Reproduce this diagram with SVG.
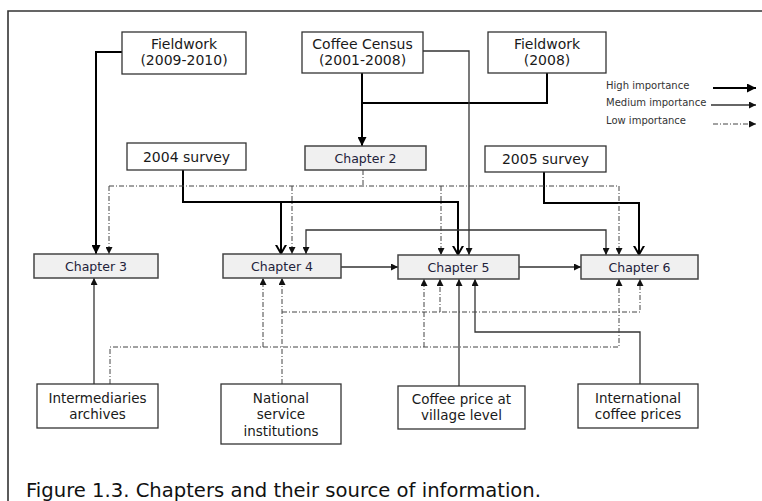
<svg xmlns="http://www.w3.org/2000/svg" width="762" height="501" viewBox="0 0 762 501">
<defs>
<marker id="tri" viewBox="0 0 8 8" refX="8" refY="4" markerWidth="7" markerHeight="7" markerUnits="userSpaceOnUse" orient="auto"><path d="M0,0 L8,4 L0,8 z" fill="#111"/></marker>
<marker id="trib" viewBox="0 0 8 8" refX="8" refY="4" markerWidth="9" markerHeight="9" markerUnits="userSpaceOnUse" orient="auto"><path d="M0,0 L8,4 L0,8 z" fill="#000"/></marker>
<marker id="vee" viewBox="0 0 10 12" refX="9.5" refY="6" markerWidth="10" markerHeight="12" markerUnits="userSpaceOnUse" orient="auto"><path d="M0,0.8 L9,6 L0,11.2" fill="none" stroke="#000" stroke-width="2"/></marker>
</defs>
<style>
.box{fill:#fff;stroke:#333;stroke-width:1.3}
.ch{fill:#f0f0f0;stroke:#444;stroke-width:1.5}
.t{font-family:"DejaVu Sans",Verdana,sans-serif;font-size:14px;fill:#1a1a1a;text-anchor:middle}
.tc{font-family:"DejaVu Sans",Verdana,sans-serif;font-size:12.5px;fill:#22223a;text-anchor:middle}
.tb{font-family:"DejaVu Sans",Verdana,sans-serif;font-size:13.5px;fill:#1a1a1a;text-anchor:middle}
.lg{font-family:"DejaVu Sans",Verdana,sans-serif;font-size:10px;fill:#333}
.hi{fill:none;stroke:#000;stroke-width:2}
.me{fill:none;stroke:#333;stroke-width:1.3}
.lo{fill:none;stroke:#444;stroke-width:1;stroke-dasharray:5 2 1 2}
</style>
<rect width="762" height="501" fill="#fff"/>
<path d="M8,501 V11 H762" fill="none" stroke="#333" stroke-width="1.6"/>

<g id="connectors">
<path class="hi" d="M122,52 H96 V254" marker-end="url(#trib)"/>
<path class="hi" d="M362,73 V146" marker-end="url(#trib)"/>
<path class="hi" d="M547,73 V103 H362"/>
<path class="hi" d="M183,170 V202 H458 V255" marker-end="url(#vee)"/>
<path class="hi" d="M281,202 V254" marker-end="url(#vee)"/>
<path class="hi" d="M544,172 V203 H639 V255" marker-end="url(#vee)"/>

<path class="me" d="M423,51 H469 V255" marker-end="url(#tri)"/>
<path class="me" d="M469,230 H306 V254" marker-end="url(#tri)"/>
<path class="me" d="M469,230 H606 V255" marker-end="url(#tri)"/>
<path class="me" d="M341,267 H398" marker-end="url(#tri)"/>
<path class="me" d="M519,267 H581" marker-end="url(#tri)"/>
<path class="me" d="M94,384 V278" marker-end="url(#tri)"/>
<path class="me" d="M459,386 V279" marker-end="url(#tri)"/>
<path class="me" d="M640,384 V332 H475 V279" marker-end="url(#tri)"/>

<path class="lo" d="M363,170 V186"/>
<path class="lo" d="M109,186 H619"/>
<path class="lo" d="M109,186 V254" marker-end="url(#tri)"/>
<path class="lo" d="M292,186 V254" marker-end="url(#tri)"/>
<path class="lo" d="M441,186 V255" marker-end="url(#tri)"/>
<path class="lo" d="M619,186 V255" marker-end="url(#tri)"/>

<path class="lo" d="M282,384 V278" marker-end="url(#tri)"/>
<path class="lo" d="M282,312 H640 V279" marker-end="url(#tri)"/>
<path class="lo" d="M440,312 V279" marker-end="url(#tri)"/>

<path class="lo" d="M110,384 V347 H619 V279" marker-end="url(#tri)"/>
<path class="lo" d="M263,347 V278" marker-end="url(#tri)"/>
<path class="lo" d="M424,347 V279" marker-end="url(#tri)"/>
</g>

<g id="legend">
<text class="lg" x="606" y="89">High importance</text>
<text class="lg" x="606" y="106">Medium importance</text>
<text class="lg" x="606" y="124">Low importance</text>
<path class="hi" d="M713,88 H756" marker-end="url(#trib)"/>
<path class="me" d="M711,105 H756" marker-end="url(#tri)"/>
<path class="lo" d="M713,124 H756" marker-end="url(#tri)"/>
</g>

<g id="fieldwork2009"><rect class="box" x="122" y="32" width="124" height="42"/><text class="t" x="184" y="49">Fieldwork</text><text class="t" x="184" y="65">(2009-2010)</text></g>
<g id="census"><rect class="box" x="302" y="32" width="121" height="41"/><text class="t" x="362.5" y="49">Coffee Census</text><text class="t" x="362.5" y="65">(2001-2008)</text></g>
<g id="fieldwork2008"><rect class="box" x="488" y="32" width="118" height="41"/><text class="t" x="547" y="49">Fieldwork</text><text class="t" x="547" y="65">(2008)</text></g>
<g id="survey2004"><rect class="box" x="127" y="143" width="119" height="27"/><text class="t" x="186.5" y="162">2004 survey</text></g>
<g id="chapter2"><rect class="ch" x="305" y="146" width="121" height="24"/><text class="tc" x="365.5" y="162.5">Chapter 2</text></g>
<g id="survey2005"><rect class="box" x="485" y="146" width="121" height="26"/><text class="t" x="545.5" y="164">2005 survey</text></g>
<g id="chapter3"><rect class="ch" x="34" y="254" width="124" height="24"/><text class="tc" x="96" y="270.5">Chapter 3</text></g>
<g id="chapter4"><rect class="ch" x="223" y="254" width="118" height="24"/><text class="tc" x="282" y="270.5">Chapter 4</text></g>
<g id="chapter5"><rect class="ch" x="398" y="255" width="121" height="24"/><text class="tc" x="458.5" y="271.5">Chapter 5</text></g>
<g id="chapter6"><rect class="ch" x="581" y="255" width="117" height="24"/><text class="tc" x="639.5" y="271.5">Chapter 6</text></g>
<g id="intermediaries"><rect class="box" x="37" y="384" width="121" height="44"/><text class="tb" x="97.5" y="403">Intermediaries</text><text class="tb" x="97.5" y="419">archives</text></g>
<g id="national"><rect class="box" x="221" y="384" width="120" height="60"/><text class="tb" x="281" y="403">National</text><text class="tb" x="281" y="419">service</text><text class="tb" x="281" y="436">institutions</text></g>
<g id="villageprice"><rect class="box" x="398" y="386" width="127" height="43"/><text class="tb" x="461.5" y="404">Coffee price at</text><text class="tb" x="461.5" y="420">village level</text></g>
<g id="intlprice"><rect class="box" x="578" y="384" width="120" height="44"/><text class="tb" x="638" y="403">International</text><text class="tb" x="638" y="419">coffee prices</text></g>

<text x="26" y="497" font-family="DejaVu Sans, Verdana, sans-serif" font-size="19.5" fill="#111" textLength="515" lengthAdjust="spacingAndGlyphs">Figure 1.3. Chapters and their source of information.</text>
</svg>
